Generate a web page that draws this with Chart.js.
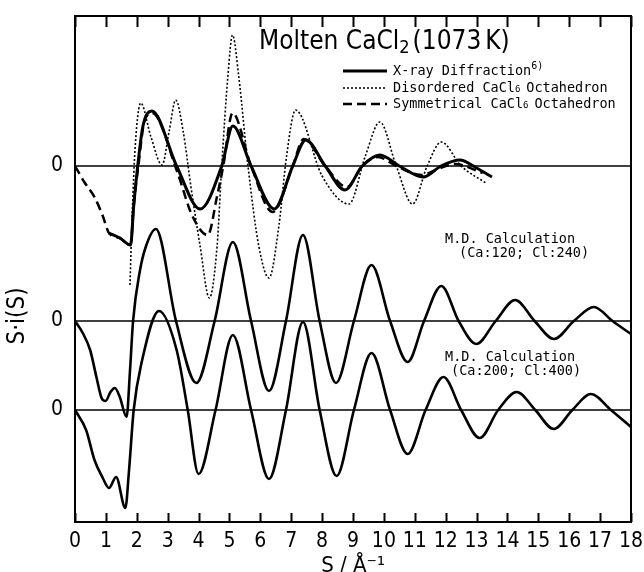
<!DOCTYPE html>
<html>
<head>
<meta charset="utf-8">
<script src="https://cdn.jsdelivr.net/npm/chart.js@4.4.1/dist/chart.umd.min.js"></script>
<style>
  html, body { margin: 0; padding: 0; background: #fff; }
</style>
</head>
<body>
<canvas id="chart" width="644" height="572"></canvas>
<script>
// S axis ticks (1/A)
const sTicks = [0, 1, 2, 3, 4, 5, 6, 7, 8, 9, 10, 11, 12, 13, 14, 15, 16, 17, 18];

// top group: X-ray diffraction and the two octahedron models
const xrayS = [1.1, 1.45, 1.8, 1.9, 2.03, 2.2, 2.49, 3.29, 4.05, 4.75, 5.11, 5.7, 6.45, 7.05, 7.47, 8.1, 8.74, 9.3, 9.87, 10.5, 11.27, 11.85, 12.46, 13.0, 13.5];
const xrayV = [-6.7, -7.2, -7.9, -4.0, 0, 4.0, 5.5, 0, -4.3, 0, 4.0, 0, -4.3, 0, 2.6, 0, -2.4, 0, 1.1, 0, -1.1, 0, 0.6, -0.2, -1.1];

const disordS = [1.78, 1.85, 1.95, 2.13, 2.45, 2.82, 3.05, 3.26, 3.5, 3.75, 4.05, 4.35, 4.6, 4.75, 4.95, 5.1, 5.3, 5.6, 5.95, 6.28, 6.6, 6.85, 7.14, 8.0, 8.87, 9.4, 9.87, 10.4, 10.93, 11.4, 11.86, 12.5, 13.3];
const disordV = [-11.9, -5.0, 2.0, 6.3, 3.0, 0.1, 3.5, 6.6, 3.5, -2.0, -8.0, -13.2, -8.0, 0, 9.0, 13.1, 9.0, 0, -8.0, -11.2, -6.0, 1.0, 5.6, -1.0, -3.8, 1.0, 4.4, 0, -3.8, 0, 2.4, 0, -1.7];

const symS = [0, 0.3, 0.63, 0.9, 1.1, 1.45, 1.8, 1.9, 2.05, 2.25, 2.5, 3.3, 3.8, 4.3, 4.6, 4.8, 5.1, 5.7, 6.4, 7.05, 7.4, 8.1, 8.8, 9.3, 9.8, 10.4, 11.2, 11.75, 12.3, 13.2];
const symV = [0, -1.6, -3.1, -5.0, -6.7, -7.2, -7.9, -4.0, 0, 4.5, 5.3, -0.5, -5.0, -6.9, -3.0, 0, 5.3, 0, -4.6, 0, 2.7, 0, -2.1, 0, 0.9, 0, -0.9, -0.3, 0.2, -0.7];

// M.D. calculation (Ca:120; Cl:240)
const md120S = [0, 0.25, 0.49, 0.7, 0.86, 0.99, 1.15, 1.29, 1.45, 1.67, 1.78, 1.88, 2.1, 2.3, 2.62, 3.27, 3.93, 4.52, 5.11, 5.7, 6.28, 6.83, 7.38, 7.92, 8.45, 9.03, 9.6, 10.2, 10.77, 11.3, 11.86, 12.42, 12.99, 13.62, 14.25, 14.88, 15.51, 16.15, 16.8, 17.4, 18];
const md120V = [0, -1.2, -2.9, -5.7, -7.7, -8.0, -7.1, -6.7, -7.6, -9.6, -5.0, 0, 5.0, 7.5, 9.2, 0, -6.2, 0, 7.9, 0, -7.0, 0, 8.6, 0, -6.2, 0, 5.6, 0, -4.1, 0, 3.5, 0, -2.3, 0, 2.1, 0, -1.8, 0, 1.4, 0, -1.3];

// M.D. calculation (Ca:200; Cl:400)
const md200S = [0, 0.36, 0.63, 0.9, 1.1, 1.33, 1.63, 1.75, 1.9, 2.16, 2.72, 3.29, 3.65, 4.0, 4.55, 5.11, 5.7, 6.28, 6.83, 7.38, 7.92, 8.47, 9.03, 9.6, 10.2, 10.77, 11.35, 11.93, 12.5, 13.1, 13.7, 14.3, 14.9, 15.5, 16.1, 16.7, 17.35, 18];
const md200V = [0, -2.0, -5.0, -6.8, -7.8, -6.7, -9.8, -6.0, 0, 4.8, 9.9, 6.0, 0, -6.4, 0, 7.5, 0, -6.9, 0, 8.8, 0, -6.6, 0, 5.7, 0, -4.4, 0, 3.3, 0, -2.8, 0, 1.8, 0, -1.9, 0, 1.6, 0, -1.7];

const toPts = (xs, ys) => xs.map((x, i) => ({ x: x, y: ys[i] }));

const NARROW = "'Liberation Sans Narrow', 'DejaVu Sans Condensed', sans-serif";
const COND = "'DejaVu Sans Condensed', 'Liberation Sans Narrow', sans-serif";
const MONO = "'DejaVu Sans Mono', 'Liberation Mono', monospace";

// draws a run of text pieces, some of them raised or lowered
function richText(ctx, x, y, parts) {
  parts.forEach(p => {
    ctx.font = p.font;
    ctx.fillText(p.t, x, y + (p.dy || 0));
    x += ctx.measureText(p.t).width + (p.gap || 0);
  });
}

const framePlugin = {
  id: 'frame',
  beforeDatasetsDraw(chart) {
    const { ctx, chartArea: a, scales } = chart;
    ctx.save();
    ctx.strokeStyle = '#000';
    ctx.lineWidth = 1.6;
    ctx.fillStyle = '#000';
    ctx.font = '21px ' + NARROW;
    ctx.textAlign = 'center';
    ctx.textBaseline = 'middle';
    ['yTop', 'yMid', 'yBot'].forEach(id => {
      const y = scales[id].getPixelForValue(0);
      ctx.beginPath();
      ctx.moveTo(a.left, y);
      ctx.lineTo(a.right, y);
      ctx.stroke();
      ctx.fillText('0', a.left - 18, y);
    });
    ctx.restore();
  },
  afterDatasetsDraw(chart) {
    const { ctx, chartArea: a, scales } = chart;
    const xs = scales.x;
    ctx.save();
    ctx.strokeStyle = '#000';
    ctx.lineWidth = 2;
    ctx.strokeRect(a.left, a.top, a.right - a.left, a.bottom - a.top);
    // ticks pointing inward, bottom and top
    sTicks.forEach(v => {
      const px = Math.round(xs.getPixelForValue(v)) + 0.5;
      ctx.beginPath();
      ctx.moveTo(px, a.bottom);
      ctx.lineTo(px, a.bottom - 9);
      ctx.moveTo(px, a.top);
      ctx.lineTo(px, a.top + 11);
      ctx.stroke();
    });

    ctx.fillStyle = '#000';
    ctx.textBaseline = 'middle';
    ctx.textAlign = 'left';

    // title
    richText(ctx, 259, 42, [
      { t: 'Molten CaCl', font: '26px ' + COND },
      { t: '2', font: '18px ' + COND, dy: 6, gap: 3 },
      { t: '(1073', font: '26px ' + COND, gap: 4 },
      { t: 'K)', font: '26px ' + COND }
    ]);

    // legend, using each dataset's own stroke
    const rows = [
      { ds: 0, y: 71, parts: [{ t: 'X-ray Diffraction', font: '13.5px ' + MONO }, { t: '6)', font: '10px ' + MONO, dy: -5 }] },
      { ds: 1, y: 88, parts: [{ t: 'Disordered CaCl', font: '13.5px ' + MONO }, { t: '6', font: '9px ' + MONO, dy: 2, gap: 6 }, { t: 'Octahedron', font: '13.5px ' + MONO }] },
      { ds: 2, y: 104, parts: [{ t: 'Symmetrical CaCl', font: '13.5px ' + MONO }, { t: '6', font: '9px ' + MONO, dy: 2, gap: 6 }, { t: 'Octahedron', font: '13.5px ' + MONO }] }
    ];
    rows.forEach(r => {
      const d = chart.data.datasets[r.ds];
      ctx.save();
      ctx.lineWidth = d.borderWidth;
      ctx.setLineDash(d.borderDash || []);
      ctx.beginPath();
      ctx.moveTo(343, r.y);
      ctx.lineTo(387, r.y);
      ctx.stroke();
      ctx.restore();
      richText(ctx, 393, r.y, r.parts);
    });

    // curve notes
    ctx.font = '13.5px ' + MONO;
    ctx.fillText('M.D. Calculation', 445, 239);
    ctx.fillText('(Ca:120; Cl:240)', 459, 253);
    ctx.fillText('M.D. Calculation', 445, 357);
    ctx.fillText('(Ca:200; Cl:400)', 451, 371);

    // y axis title
    ctx.translate(18, 316);
    ctx.rotate(-Math.PI / 2);
    ctx.textAlign = 'center';
    ctx.font = '24px ' + COND;
    ctx.fillText('S\u00b7i(S)', 0, 0);
    ctx.restore();
  }
};

const line = (pts, axis, width, dash) => ({
  data: pts,
  yAxisID: axis,
  borderColor: '#000',
  borderWidth: width,
  borderDash: dash,
  pointRadius: 0,
  fill: false,
  cubicInterpolationMode: 'monotone'
});

new Chart(document.getElementById('chart'), {
  type: 'line',
  data: {
    datasets: [
      line(toPts(xrayS, xrayV), 'yTop', 3, []),
      line(toPts(disordS, disordV), 'yTop', 1.6, [2, 2]),
      line(toPts(symS, symV), 'yTop', 2.5, [9, 5]),
      line(toPts(md120S, md120V), 'yMid', 2.6, []),
      line(toPts(md200S, md200V), 'yBot', 2.6, [])
    ]
  },
  options: {
    responsive: false,
    animation: false,
    layout: { padding: { left: 75, right: 13, top: 16, bottom: 0 } },
    plugins: { legend: { display: false }, tooltip: { enabled: false } },
    scales: {
      x: {
        type: 'linear',
        min: 0,
        max: 18,
        afterBuildTicks: s => { s.ticks = sTicks.map(v => ({ value: v })); },
        afterFit: s => { s.paddingLeft = 0; s.paddingRight = 0; },
        grid: { display: false, drawTicks: false },
        border: { display: false },
        ticks: { color: '#000', padding: 9, maxRotation: 0, autoSkip: false, font: { family: NARROW, size: 21, lineHeight: 1 } },
        title: { display: true, text: 'S / \u00c5\u207b\u00b9', color: '#000', padding: { top: 0, bottom: 0 }, font: { family: COND, size: 22, lineHeight: '11px' } }
      },
      yTop: { type: 'linear', display: false, min: -35.6, max: 15.0 },
      yMid: { type: 'linear', display: false, min: -20.1, max: 30.5 },
      yBot: { type: 'linear', display: false, min: -11.2, max: 39.4 }
    }
  },
  plugins: [framePlugin]
});
</script>
</body>
</html>
